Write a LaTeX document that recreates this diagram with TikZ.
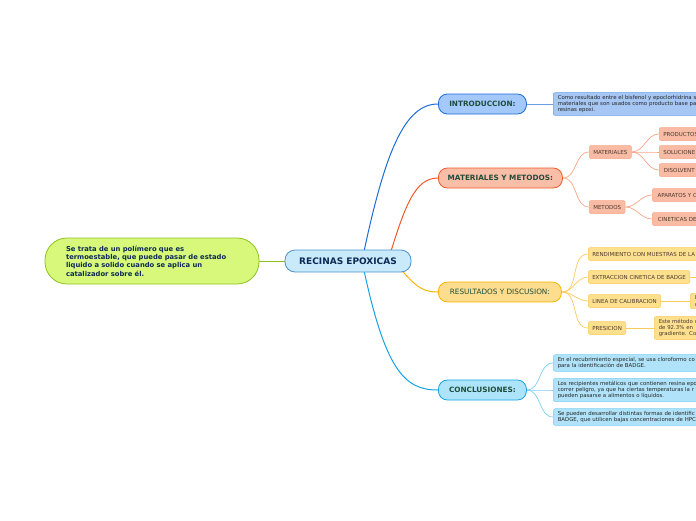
\documentclass[tikz,border=0pt]{standalone}
\usepackage{fontspec}
\setmainfont{DejaVu Sans}
\usetikzlibrary{backgrounds}
\definecolor{deffill}{HTML}{D8F87C}
\definecolor{defline}{HTML}{8DC21F}
\definecolor{rootfill}{HTML}{C8EAFB}
\definecolor{rootline}{HTML}{4D91C9}
\definecolor{navy}{HTML}{0D2A55}
\definecolor{topictext}{HTML}{1E4D3A}
\definecolor{leaftext}{HTML}{4A3A30}
\definecolor{introfill}{HTML}{A3C8FB}
\definecolor{introline}{HTML}{1E6BD6}
\definecolor{introleaf}{HTML}{A6C6F4}
\definecolor{introtwig}{HTML}{6E9FE6}
\definecolor{matfill}{HTML}{F9BEA8}
\definecolor{matline}{HTML}{F05A28}
\definecolor{matleaf}{HTML}{F9BBA4}
\definecolor{mattwig}{HTML}{F7A589}
\definecolor{resfill}{HTML}{FEDD8F}
\definecolor{resline}{HTML}{F7B500}
\definecolor{resleaf}{HTML}{FDE08E}
\definecolor{restwig}{HTML}{F9CB5D}
\definecolor{conclfill}{HTML}{AEE4FA}
\definecolor{conclline}{HTML}{16A3E6}
\definecolor{conclleaf}{HTML}{B0E3F9}
\definecolor{concltwig}{HTML}{7CCFF2}
\tikzset{
 topic/.style={draw,rounded corners=9pt,minimum height=20pt,inner xsep=8pt,anchor=west,
   line width=0.8pt,text=topictext,font=\fontsize{7.3}{8}\selectfont\bfseries},
 leaf/.style={draw,rounded corners=2pt,minimum height=13pt,inner xsep=4pt,anchor=west,
   line width=0.5pt,text=leaftext,font=\fontsize{5.5}{6}\selectfont},
 note/.style={leaf,align=left,inner xsep=4.5pt,inner ysep=2.5pt,minimum height=0pt,
   text width=160pt,text=black!85,font=\fontsize{5.4}{6.3}\selectfont},
 branch/.style={line width=1pt},
 twig/.style={line width=0.7pt}
}
\begin{document}
\begin{tikzpicture}[x=1pt,y=-1pt]
\useasboundingbox (0,0) rectangle (696,520);
% central topic
\node[draw=rootline,fill=rootfill,line width=0.8pt,rounded corners=10pt,minimum width=126pt,
  minimum height=22pt,text=navy,font=\fontsize{9}{10}\selectfont\bfseries] (root) at (348,261) {RECINAS EPOXICAS};
\node[draw=defline,fill=deffill,line width=0.8pt,rounded corners=22pt,minimum width=214pt,
  minimum height=46pt,text width=172pt,align=left,text=navy,
  font=\fontsize{6.8}{8.4}\selectfont\bfseries] (def) at (152,261)
  {Se trata de un polímero que es\\termoestable, que puede pasar de estado\\liquido a solido cuando se aplica un\\catalizador sobre él.};
% main topics
\node[topic,fill=introfill,draw=introline,minimum width=88pt] (intro) at (438,104) {INTRODUCCION:};
\node[topic,fill=matfill,draw=matline,minimum width=124pt] (mat) at (438,178) {MATERIALES Y METODOS:};
\node[topic,fill=resfill,draw=resline,minimum width=123pt,font=\fontsize{7.3}{8}\selectfont] (res) at (438,292) {RESULTADOS Y DISCUSION:};
\node[topic,fill=conclfill,draw=conclline,minimum width=88pt] (concl) at (438,390) {CONCLUSIONES:};
% introduccion
\node[note,fill=introleaf,draw=introtwig] (introtxt) at (553,104)
  {Como resultado entre el bisfenol y epoclorhidrina s\\materiales que son usados como producto base pa\\resinas epoxi.};
% materiales y metodos
\node[leaf,fill=matleaf,draw=mattwig] (materiales) at (589,152) {MATERIALES};
\node[leaf,fill=matleaf,draw=mattwig] (metodos) at (589,207) {METODOS};
\node[leaf,fill=matleaf,draw=mattwig,minimum width=60pt,align=left] (productos) at (659,134) {PRODUCTOS\hspace{20pt}};
\node[leaf,fill=matleaf,draw=mattwig,minimum width=60pt,align=left] (soluciones) at (659,152) {SOLUCIONE\hspace{20pt}};
\node[leaf,fill=matleaf,draw=mattwig,minimum width=60pt,align=left] (disolventes) at (659,170) {DISOLVENT\hspace{20pt}};
\node[leaf,fill=matleaf,draw=mattwig,minimum width=70pt,align=left] (aparatos) at (652,195) {APARATOS Y C\hspace{20pt}};
\node[leaf,fill=matleaf,draw=mattwig,minimum width=70pt,align=left] (cineticas) at (652,219) {CINETICAS DE\hspace{20pt}};
% resultados y discusion
\node[leaf,fill=resleaf,draw=restwig] (rendimiento) at (588,254) {RENDIMIENTO CON MUESTRAS DE LA\hspace{20pt}};
\node[leaf,fill=resleaf,draw=restwig] (extraccion) at (588,277) {EXTRACCION CINETICA DE BADGE};
\node[leaf,fill=resleaf,draw=restwig] (linea) at (588,301) {LINEA DE CALIBRACION};
\node[leaf,fill=resleaf,draw=restwig] (presicion) at (588,328) {PRESICION};
\node[note,fill=resleaf,draw=restwig,text=leaftext,text width=40pt] (lineatxt) at (690,301) {L\\c};
\node[note,fill=resleaf,draw=restwig,text=leaftext,text width=60pt] (presiciontxt) at (654,328)
  {Este método d\\de 92.3\% en\\gradiente. Co};
\coordinate (extraccionout) at (704,277);
% conclusiones
\node[note,fill=conclleaf,draw=concltwig] (concl1) at (553,363)
  {En el recubrimiento especial, se usa cloroformo co\\para la identificación de BADGE.};
\node[note,fill=conclleaf,draw=concltwig] (concl2) at (553,390)
  {Los recipientes metálicos que contienen resina epo\\correr peligro, ya que ha ciertas temperaturas la r\\pueden pasarse a alimentos o líquidos.};
\node[note,fill=conclleaf,draw=concltwig] (concl3) at (553,417)
  {Se pueden desarrollar distintas formas de identific\\BADGE, que utilicen bajas concentraciones de HPC};
% connectors
\begin{scope}[on background layer]
 \draw[defline,branch] (def) -- (root);
 \draw[introline,branch] (362,261) .. controls (385,150) and (405,104) .. (intro.west);
 \draw[matline,branch] (388,261) .. controls (405,205) and (415,178) .. (mat.west);
 \draw[resline,branch] (395,263) .. controls (415,285) and (420,292) .. (res.west);
 \draw[conclline,branch] (362,261) .. controls (385,372) and (405,390) .. (concl.west);
 \draw[introtwig,twig] (intro.east) -- (introtxt.west);
 \foreach \n in {materiales,metodos}
  \draw[mattwig,twig] (mat.east) to[out=0,in=180] (\n.west);
 \foreach \n in {productos,soluciones,disolventes}
  \draw[mattwig,twig] (materiales.east) to[out=0,in=180] (\n.west);
 \foreach \n in {aparatos,cineticas}
  \draw[mattwig,twig] (metodos.east) to[out=0,in=180] (\n.west);
 \foreach \n in {rendimiento,extraccion,linea,presicion}
  \draw[restwig,twig] (res.east) to[out=0,in=180] (\n.west);
 \draw[restwig,twig] (extraccion.east) -- (extraccionout);
 \draw[restwig,twig] (linea.east) -- (lineatxt.west);
 \draw[restwig,twig] (presicion.east) -- (presiciontxt.west);
 \foreach \n in {concl1,concl2,concl3}
  \draw[concltwig,twig] (concl.east) to[out=0,in=180] (\n.west);
\end{scope}
\end{tikzpicture}
\end{document}
